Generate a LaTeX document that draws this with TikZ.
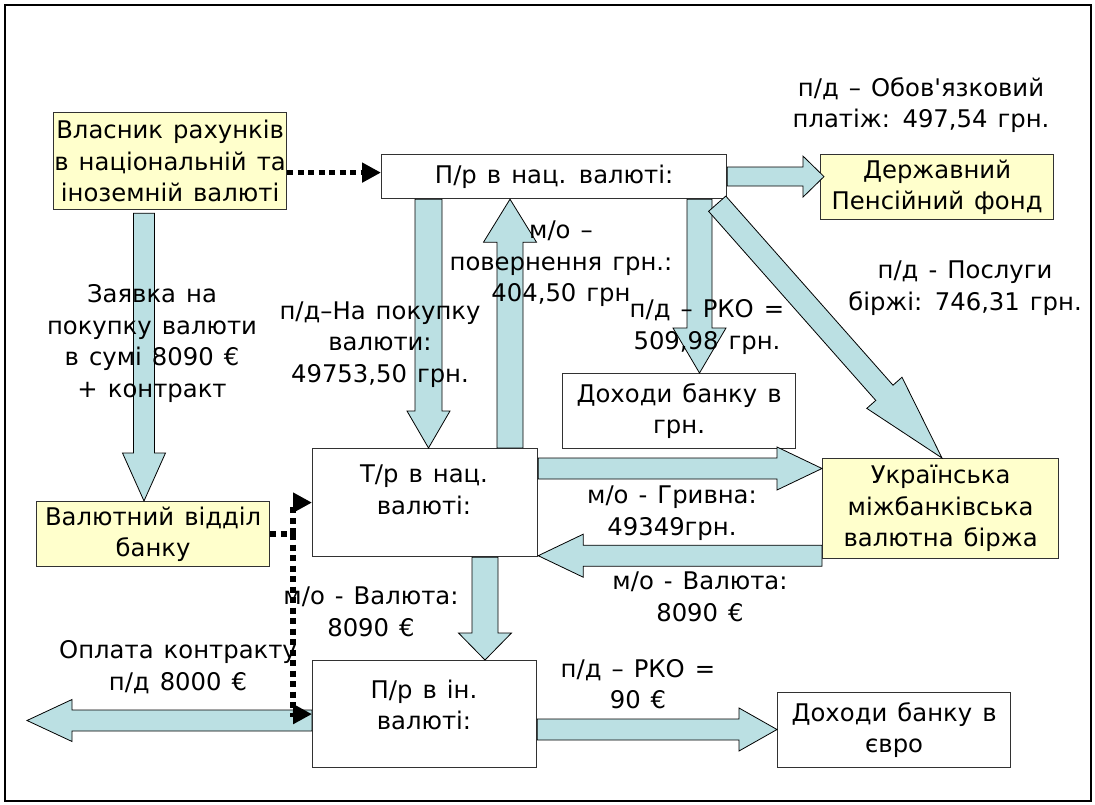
\documentclass[tikz,border=0pt]{standalone}
\usepackage{fontspec}
\newfontfamily\dvs[WordSpace=1.3]{DejaVu Sans}
\usetikzlibrary{calc,arrows.meta}
\definecolor{arrowfill}{RGB}{187,224,227}
\definecolor{boxyellow}{RGB}{255,255,204}
\definecolor{boxline}{RGB}{50,50,50}
% block arrow: #1 start, #2 end, #3 half shaft width, #4 half head width, #5 head length
\newcommand{\blockarrow}[5]{%
  \coordinate (bas) at #1;
  \coordinate (bae) at #2;
  \coordinate (bah) at ($(bae)!#5!(bas)$);
  \filldraw[blockarrow] ($(bas)!#3!90:(bae)$) -- ($(bah)!#3!-90:(bas)$) -- ($(bah)!#4!-90:(bas)$) -- (bae) -- ($(bah)!#4!90:(bas)$) -- ($(bah)!#3!90:(bas)$) -- ($(bas)!#3!-90:(bae)$) -- cycle;}
\begin{document}
\begin{tikzpicture}[x=1pt,y=-1pt,
  font=\dvs\fontsize{24.3}{31.5}\selectfont,
  box/.style={draw=boxline, line width=1.2pt, fill=white, rectangle, inner sep=0pt, align=center, anchor=north west},
  ybox/.style={box, fill=boxyellow},
  lbl/.style={align=center, inner sep=0pt},
  blockarrow/.style={fill=arrowfill, draw=black, line width=0.8pt, line join=miter},
  dotline/.style={line width=5.5pt, dash pattern=on 6pt off 4.5pt},
  dotarrow/.style={dotline, -{Triangle[length=19pt,width=19pt]}}]
\useasboundingbox (0,0) rectangle (1095,805);
\draw[line width=2.5pt] (5,5) rectangle (1091,801);

% boxes
\node[ybox, minimum width=233pt, minimum height=97pt] (vlas) at (53,112) {Власник рахунків\\в національній та\\іноземній валюті};
\node[box, minimum width=345pt, minimum height=44pt] (prn) at (381,154) {П/р в нац. валюті:};
\node[ybox, minimum width=233pt, minimum height=65pt] (derzh) at (820,154) {Державний\\Пенсійний фонд};
\node[box, minimum width=233pt, minimum height=75pt] (dohgrn) at (562,373) {Доходи банку в\\грн.};
\node[box, minimum width=225pt, minimum height=108pt] (tr) at (312,448) {};
\node[ybox, minimum width=236pt, minimum height=100pt] (ukr) at (822,458) {Українська\\міжбанківська\\валютна біржа};
\node[ybox, minimum width=233pt, minimum height=65pt] (valut) at (36,501) {Валютний відділ\\банку};
\node[box, minimum width=224pt, minimum height=107pt] (pri) at (312,660) {};
\node[box, minimum width=233pt, minimum height=75pt] (doheur) at (777,692) {Доходи банку в\\євро};

% block arrows
\blockarrow{($(vlas.south west)+(91,3)$)}{($(valut.north west)+(108,0)$)}{10.5pt}{21.5pt}{48pt}
\blockarrow{(prn.east)}{($(prn.east -| derzh.west)+(4,0)$)}{9.5pt}{20.5pt}{21pt}
\blockarrow{($(prn.south west)+(47.5,0)$)}{($(tr.north west)+(116.5,0)$)}{13.5pt}{21.5pt}{37pt}
\blockarrow{($(tr.north west)+(198,0)$)}{($(prn.south west)+(129,0)$)}{13pt}{26.5pt}{43pt}
\blockarrow{($(prn.south west)+(318.5,0)$)}{($(dohgrn.north west)+(137.5,0)$)}{12.5pt}{26.5pt}{45pt}
\blockarrow{($(prn.south east)+(-10,4.5)$)}{($(ukr.north west)+(120,0)$)}{11.5pt}{23.5pt}{87pt}
\coordinate (a7) at ($(tr.north east)+(0,20.5)$);
\blockarrow{(a7)}{(a7 -| ukr.west)}{10.5pt}{21.5pt}{45pt}
\coordinate (a8) at ($(ukr.south west)+(0,-3.5)$);
\blockarrow{(a8)}{(a8 -| tr.east)}{10.5pt}{21.5pt}{45pt}
\blockarrow{($(tr.south west)+(173,0)$)}{($(pri.north west)+(173,0)$)}{13pt}{26.5pt}{27pt}
\coordinate (a10) at ($(pri.north east)+(0,69.5)$);
\blockarrow{(a10)}{(a10 -| doheur.west)}{10.5pt}{21.5pt}{38pt}
\coordinate (payout) at (27,720.5);
\blockarrow{($(pri.north west)+(0,60.5)$)}{(payout)}{10.5pt}{21pt}{45pt}

% dotted connectors
\coordinate (d1) at ($(vlas.east)+(0,11.5)$);
\draw[dotarrow] (d1) -- (d1 -| prn.west);
\draw[dotline] (valut.east) -- ++(23,0) coordinate (sp);
\draw[dotarrow] (sp) |- (tr.west);
\draw[dotarrow] (sp) |- (pri.west);

% texts
\node[lbl] (tTr) at (424,490) {Т/р в нац.\\валюті:};
\node[lbl] (tPri) at (424,705) {П/р в ін.\\валюті:};
\node[lbl] (lObov) at (921,105) {п/д – Обов'язковий\\платіж: 497,54 грн.};
\node[lbl] (lPover) at (561,264) {м/о –\\повернення грн.:\\404,50 грн};
\node[lbl] (lRkoGrn) at (707,327) {п/д – РКО =\\509,98 грн.};
\node[lbl] (lPosl) at (965,288) {п/д - Послуги\\біржі: 746,31 грн.};
\node[lbl] (lZayav) at (152,343.5) {Заявка на\\покупку валюти\\в сумі 8090 €\\+ контракт};
\node[lbl] (lPokup) at (380,344.5) {п/д–На покупку\\валюти:\\49753,50 грн.};
\node[lbl] (lHryv) at (672,513) {м/о - Гривна:\\49349грн.};
\node[lbl] (lValR) at (700,597) {м/о - Валюта:\\8090 €};
\node[lbl] (lValL) at (371,612) {м/о - Валюта:\\8090 €};
\node[lbl] (lOplata) at (178,667) {Оплата контракту\\п/д 8000 €};
\node[lbl] (lRkoEur) at (638,684) {п/д – РКО =\\90 €};
\end{tikzpicture}
\end{document}
